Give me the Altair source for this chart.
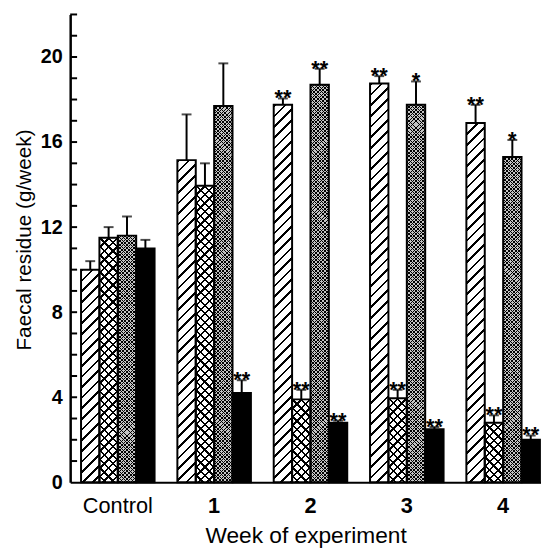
import math
import altair as alt
import pandas as pd

# ---------------- data ----------------
weeks = ["Control", "1", "2", "3", "4"]
series = ["Group A", "Group B", "Group C", "Group D"]

hatched_mean = [10.0, 15.15, 17.75, 18.75, 16.9]
hatched_sem = [0.4, 2.15, 0.3, 0.35, 0.85]
hatched_sig = ["", "", "**", "**", "**"]

cross_mean = [11.5, 13.95, 3.9, 3.95, 2.8]
cross_sem = [0.5, 1.05, 0.45, 0.4, 0.35]
cross_sig = ["", "", "**", "**", "**"]

grey_mean = [11.6, 17.7, 18.7, 17.75, 15.3]
grey_sem = [0.9, 2.0, 0.75, 1.1, 0.8]
grey_sig = ["", "", "**", "*", "*"]

black_mean = [11.0, 4.2, 2.8, 2.5, 2.0]
black_sem = [0.4, 0.6, 0.1, 0.1, 0.2]
black_sig = ["", "**", "**", "**", "**"]

y_labels = [0, 4, 8, 12, 16, 20]
y_minor = list(range(1, 23))
Y_MAX = 22

# ---------------- layout ----------------
PLOT_W, PLOT_H = 477, 474
STEP, BAND, START = 97.6, 74.5, 11.0
P_INNER = 1 - BAND / STEP
P_OUTER = (PLOT_W / STEP - len(weeks) + P_INNER) / 2
ALIGN = START / (PLOT_W - (STEP * (len(weeks) - 1) + BAND))
BAR_W = BAND / len(series)
UNIT = PLOT_H / Y_MAX
FONT = "Liberation Sans"

# ---------------- table ----------------
means = [hatched_mean, cross_mean, grey_mean, black_mean]
sems = [hatched_sem, cross_sem, grey_sem, black_sem]
sigs = [hatched_sig, cross_sig, grey_sig, black_sig]
rows = []
for s, m, e, g in zip(series, means, sems, sigs):
    for w, mv, ev, gv in zip(weeks, m, e, g):
        rows.append({"week": w, "series": s, "mean": mv, "top": round(mv + ev, 3), "sig": gv})
bars = pd.DataFrame(rows)

# pattern segments (stacked from each bar's top downwards; clipped at 0)
SEG, OVER = 2.0, 0.05
seg_rows = []
for r in rows:
    j = 0
    while r["mean"] - SEG * j > 0:
        seg_rows.append({"week": r["week"], "series": r["series"],
                         "mean": r["mean"] - SEG * j,
                         "sbot": r["mean"] - SEG * (j + 1) - OVER})
        j += 1
segs = pd.DataFrame(seg_rows)

# ---------------- hatching gradients ----------------
HB = (SEG + OVER) * UNIT
WB = BAR_W
D = WB + HB
A = D / (WB ** 2 + HB ** 2)


def stripes(period, thick, ink, bg, direction):
    st = [alt.GradientStop(offset=0, color=bg)]
    n = -2
    while True:
        a = n * period
        b = a + thick
        if a / D >= 1:
            break
        ac = min(1.0, max(0.0, a / D))
        bc = min(1.0, max(0.0, b / D))
        if bc > 0 and ac < 1 and bc > ac:
            st += [alt.GradientStop(offset=round(ac, 5), color=bg),
                   alt.GradientStop(offset=round(ac, 5), color=ink),
                   alt.GradientStop(offset=round(bc, 5), color=ink),
                   alt.GradientStop(offset=round(bc, 5), color=bg)]
        n += 1
    st.append(alt.GradientStop(offset=1, color=bg))
    if direction == "/":
        return alt.LinearGradient(gradient="linear", stops=st, x1=0, y1=0,
                                  x2=round(A * WB, 5), y2=round(A * HB, 5))
    return alt.LinearGradient(gradient="linear", stops=st, x1=1, y1=0,
                              x2=round(1 - A * WB, 5), y2=round(A * HB, 5))


CLEAR = "rgba(0,0,0,0)"
seg_px = SEG * UNIT
hatch = stripes(seg_px / 4, 2.7, "black", "white", "/")
cross1 = stripes(seg_px / 5, 2.4, "black", "white", "/")
cross2 = stripes(seg_px / 5, 2.4, "black", CLEAR, "\\")
grey1 = stripes(seg_px / 12, 1.0, "black", "#c4c4c4", "/")
grey2 = stripes(seg_px / 12, 1.0, "black", CLEAR, "\\")

# ---------------- shared scales / axes ----------------
xscale = alt.Scale(domain=weeks, paddingInner=P_INNER, paddingOuter=P_OUTER,
                   align=ALIGN, round=False)
yscale = alt.Scale(domain=[0, Y_MAX], nice=False)
xaxis = alt.Axis(labelAngle=0, ticks=False, tickSize=0, labelPadding=14,
                 labelFont=FONT, labelFontSize=22, labelColor="black",
                 labelFontWeight=alt.ExprRef(expr="datum.label == 'Control' ? 'normal' : 'bold'"),
                 titleFont=FONT, titleFontSize=23, titleFontWeight="normal",
                 titleColor="black", titlePadding=8,
                 domainColor="black", domainWidth=2, grid=False)
yaxis = alt.Axis(values=y_labels, ticks=False, tickSize=0, labelPadding=8,
                 labelFont=FONT, labelFontSize=20, labelFontWeight="bold",
                 labelColor="black", titleFont=FONT, titleFontSize=21,
                 titleFontWeight="normal", titleColor="black", titlePadding=6,
                 titleY=228, domainColor="black", domainWidth=2.5, grid=False)
XT = "Week of experiment"
YT = "Faecal residue (g/week)"


def xe():
    return alt.X("week:N", scale=xscale, axis=xaxis, title=XT)


def ye(field):
    return alt.Y(field, scale=yscale, axis=yaxis, title=YT)


xo = alt.XOffset("series:N", scale=alt.Scale(domain=series, paddingInner=0, paddingOuter=0))


def seg_layer(s, grad):
    return alt.Chart(segs[segs.series == s]).mark_bar(fill=grad, clip=True, strokeWidth=0).encode(
        x=xe(), xOffset=xo, y=ye("mean:Q"), y2="sbot:Q")


layers = [
    seg_layer(series[0], hatch),
    seg_layer(series[1], cross1),
    seg_layer(series[1], cross2),
    seg_layer(series[2], grey1),
    seg_layer(series[2], grey2),
]

outline = alt.Chart(bars).mark_bar(stroke="black", strokeWidth=2).encode(
    x=xe(), xOffset=xo, y=ye("mean:Q"),
    fill=alt.Fill("series:N", scale=alt.Scale(domain=series,
                  range=["transparent", "transparent", "transparent", "black"]), legend=None),
)

err = alt.Chart(bars).mark_rule(color="black", strokeWidth=2).encode(
    x=xe(), xOffset=xo, y=ye("mean:Q"), y2="top:Q")

cap = alt.Chart(bars).mark_tick(color="black", thickness=2, size=10, orient="horizontal").encode(
    x=xe(), xOffset=xo, y=ye("top:Q"))

stars = alt.Chart(bars).mark_text(font=FONT, fontSize=22, fontWeight="bold", color="black",
                                  baseline="alphabetic", dy=7).encode(
    x=xe(), xOffset=xo, y=ye("top:Q"), text="sig:N")

ticks = alt.Chart(pd.DataFrame({"v": y_minor})).mark_rule(color="black", strokeWidth=2).encode(
    y=ye("v:Q"), x=alt.value(0), x2=alt.value(7))

chart = alt.layer(*layers, outline, err, cap, stars, ticks).properties(
    width=PLOT_W, height=PLOT_H,
    padding={"left": 63, "top": 3, "right": 0, "bottom": 63},
    autosize=alt.AutoSizeParams(type="none"),
    background="white",
).configure_view(stroke="transparent")

chart.save("out.html", embed_options={"renderer": "svg", "actions": False})
